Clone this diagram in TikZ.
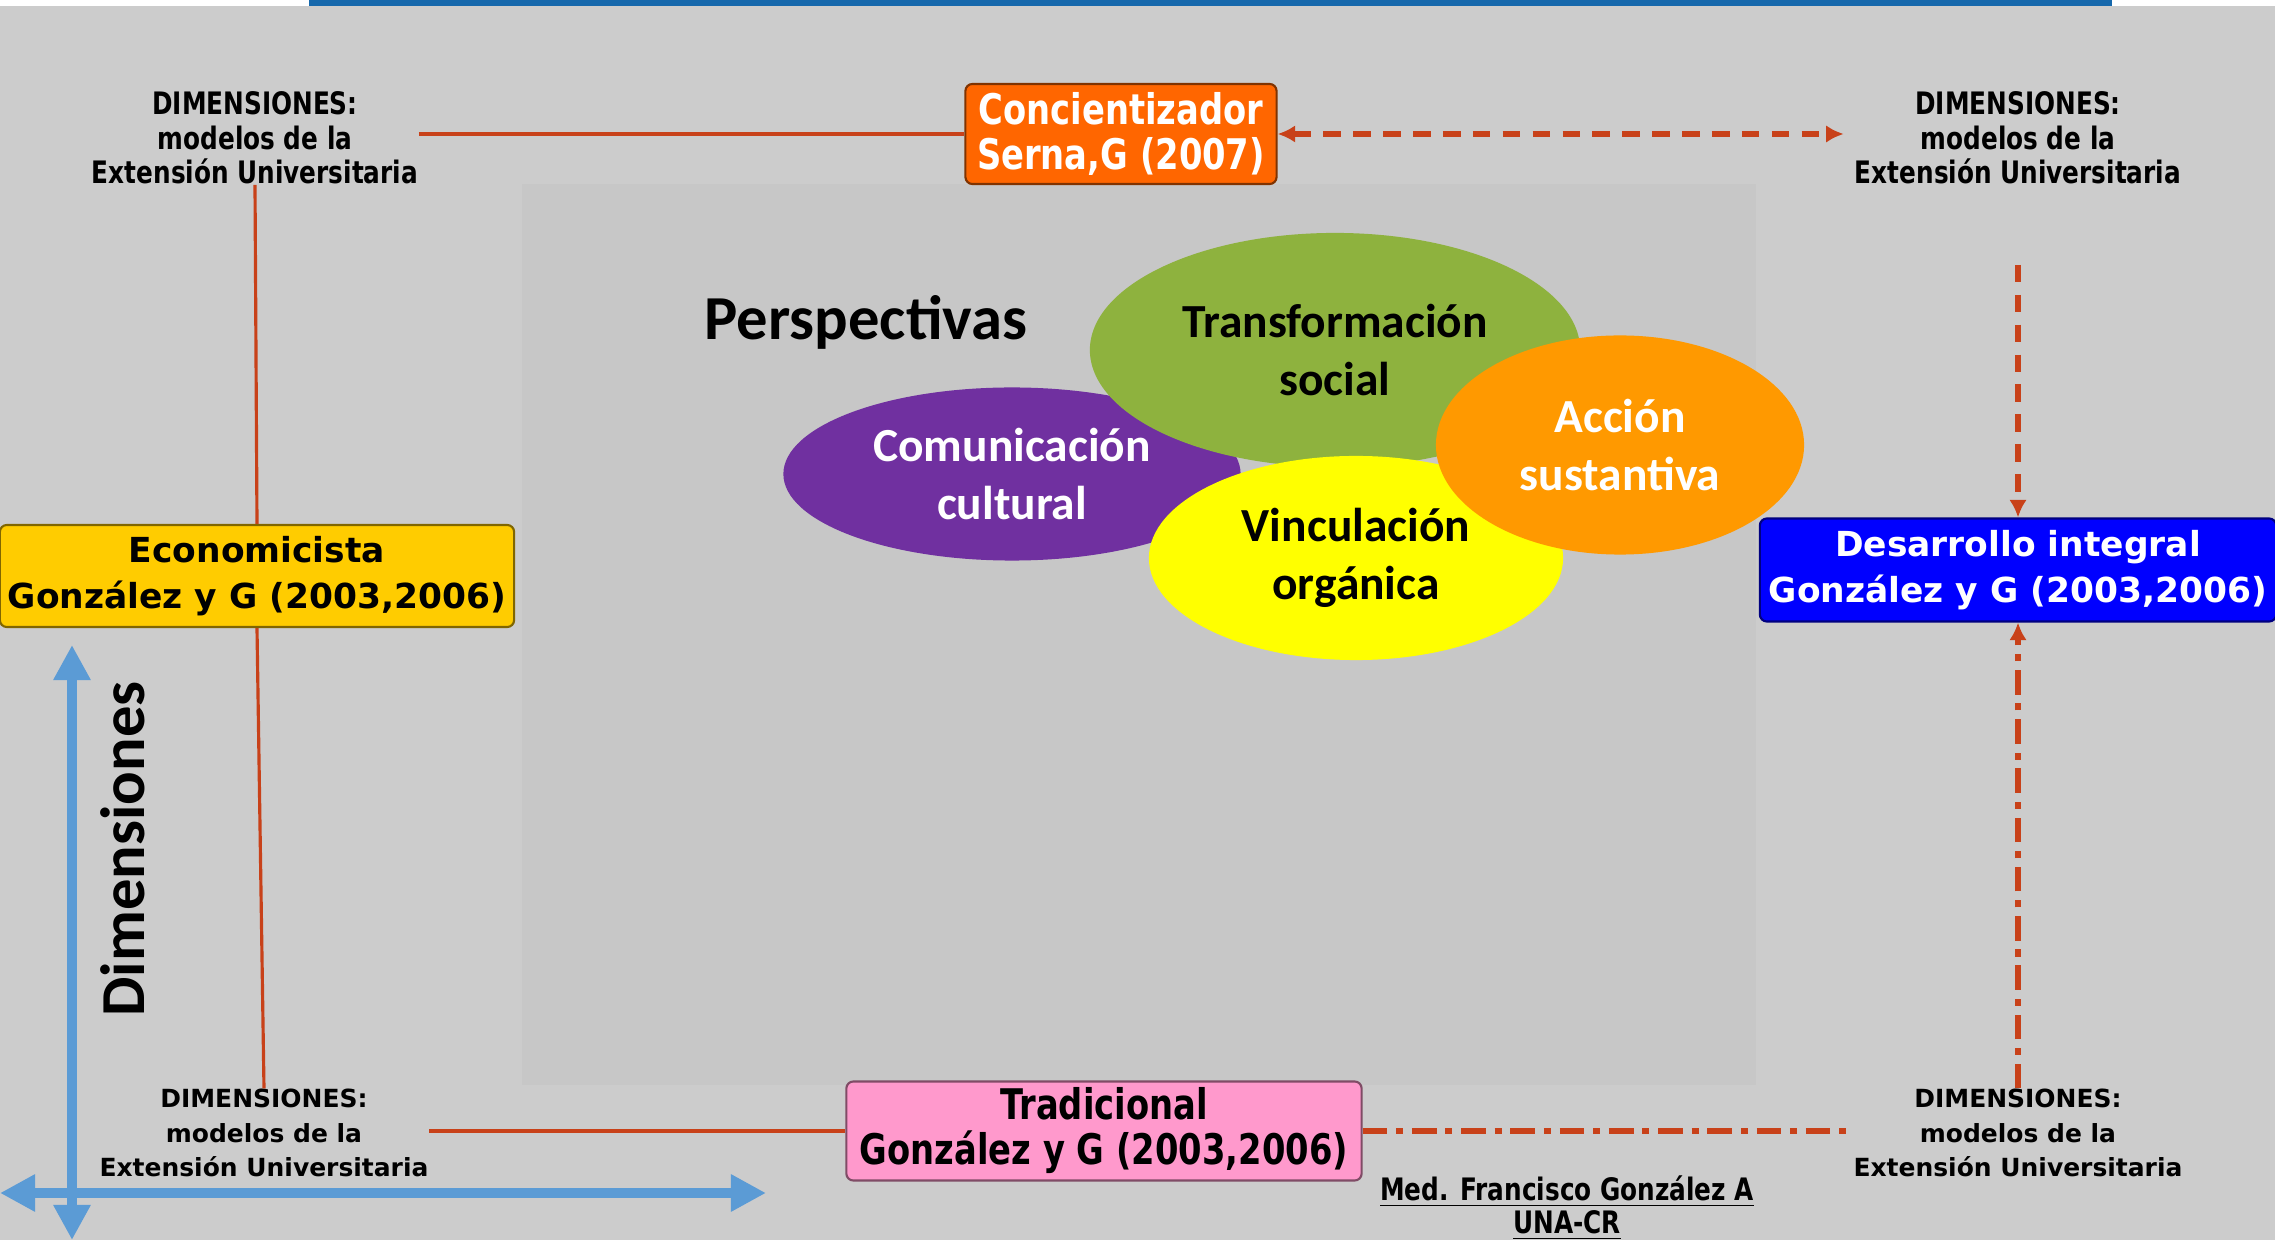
\documentclass[tikz,border=0pt]{standalone}
\usepackage{fontspec}
\setmainfont{DejaVu Sans}
\newfontfamily\narrowfont{DejaVu Sans}[FakeStretch=0.8]
\newfontfamily\calfont{Carlito}
\usetikzlibrary{positioning,shapes.geometric,arrows.meta}
\definecolor{bgray}{RGB}{204,204,204}
\definecolor{pgray}{RGB}{199,199,199}
\definecolor{barblue}{RGB}{22,104,172}
\definecolor{concorange}{RGB}{255,102,0}
\definecolor{econyellow}{RGB}{255,204,0}
\definecolor{desablue}{RGB}{0,0,255}
\definecolor{tradpink}{RGB}{255,153,204}
\definecolor{linkred}{RGB}{200,65,25}
\definecolor{axisblue}{RGB}{91,155,213}
\definecolor{transgreen}{RGB}{142,178,62}
\definecolor{compurple}{RGB}{112,48,160}
\definecolor{vincyellow}{RGB}{255,255,0}
\definecolor{accorange}{RGB}{255,153,0}

\begin{document}
\begin{tikzpicture}[x=0.01cm, y=-0.01cm,
  box/.style = {shape=rectangle, rounded corners=2pt, draw=#1!50!black,
    fill=#1, line width=0.6pt, align=center, inner sep=0pt},
  narrowbox/.style = {font=\narrowfont\bfseries\fontsize{12}{12.8}\selectfont},
  widebox/.style = {font=\bfseries\fontsize{9.8}{13}\selectfont},
  dimtop/.style = {align=center, inner sep=0pt,
    font=\narrowfont\bfseries\fontsize{8.8}{9.8}\selectfont},
  dimbot/.style = {align=center, inner sep=0pt,
    font=\bfseries\fontsize{7.1}{9.8}\selectfont},
  bubble/.style = {shape=ellipse, inner sep=0pt, align=center,
    font=\calfont\bfseries\fontsize{13.5}{16.5}\selectfont},
  title/.style = {inner sep=0pt, font=\calfont\bfseries\fontsize{17.8}{20}\selectfont},
  link/.style = {draw=linkred, line width=0.9pt},
  dashlink/.style = {draw=linkred, line width=1.5pt, dash pattern=on 5pt off 3.5pt},
  dotlink/.style = {draw=linkred, line width=1.5pt, dash pattern=on 7pt off 2.5pt on 2pt off 2.5pt},
  axis/.style = {draw=axisblue, line width=2.8pt,
    {Triangle[width=10pt,length=10pt]}-{Triangle[width=10pt,length=10pt]}},
  >={Latex[length=5pt,width=5pt]}
  ]
\useasboundingbox (0,0) rectangle (2275,1240);
\fill[bgray] (0,0) rectangle (2275,1240);
\fill[white] (0,0) rectangle (2275,6);
\fill[barblue] (309,0) rectangle (2112,6);
\fill[pgray] (522,184) rectangle (1756,1085);

% boxes
\node[box=concorange, narrowbox, text=white, minimum width=3.11cm, minimum height=1cm] (conc) at (1121,134) {Concientizador\\Serna,G (2007)};
\node[box=econyellow, widebox, minimum width=5.14cm, minimum height=1.02cm] (econ) at (257,576) {Economicista\\González y G (2003,2006)};
\node[box=desablue, widebox, text=white, minimum width=5.16cm, minimum height=1.03cm] (desa) at (2018,570) {Desarrollo integral\\González y G (2003,2006)};
\node[box=tradpink, narrowbox, minimum width=5.15cm, minimum height=0.99cm] (trad) at (1104,1131) {Tradicional\\González y G (2003,2006)};

% corner texts
\node[dimtop] (dimTL) at (255,138) {DIMENSIONES:\\modelos de la\\Extensión Universitaria};
\node[dimtop] (dimTR) at (2018,138) {DIMENSIONES:\\modelos de la\\Extensión Universitaria};
\node[dimbot] (dimBL) at (264,1133) {DIMENSIONES:\\modelos de la\\Extensión Universitaria};
\node[dimbot] (dimBR) at (2018,1133) {DIMENSIONES:\\modelos de la\\Extensión Universitaria};

% perspectives
\node[title] (persp) at (866,322) {Perspectivas};
\node[bubble, fill=compurple, text=white, minimum width=4.57cm, minimum height=1.73cm] (comu) at (1012,474) {Comunicación\\cultural};
\node[bubble, fill=transgreen, minimum width=4.9cm, minimum height=2.34cm] (trans) at (1335,350) {Transformación\\social};
\node[bubble, fill=vincyellow, minimum width=4.14cm, minimum height=2.04cm] (vinc) at (1356,558) {Vinculación\\orgánica};
\node[bubble, fill=accorange, text=white, minimum width=3.68cm, minimum height=2.19cm] (acci) at (1620,445) {Acción\\sustantiva};

% axes
\coordinate (axtop) at (72,645);
\coordinate (axbot) at (72,1240);
\coordinate (axleft) at (0,1193);
\coordinate (axright) at (766,1193);
\draw[axis] (axbot) -- (axtop);
\draw[axis] (axleft) -- (axright);
\node[title, rotate=90] (dimlabel) at (123,849) {Dimensiones};

\node[inner sep=0pt, align=center, font=\narrowfont\bfseries\fontsize{8.8}{9.4}\selectfont] (auth) at (1567,1208) {\underline{Med. Francisco González A}\\\underline{UNA-CR}};

% connectors
\draw[link] (dimTL.east |- conc.west) -- (conc.west);
\draw[dashlink, <->] (conc.east) -- ([xshift=-3pt]dimTR.west |- conc.east);
\draw[link] (dimTL.south) -- (econ.north);
\draw[link] (econ.south) -- (dimBL.north);
\draw[link] (dimBL.east |- trad.west) -- (trad.west);
\draw[dotlink] (trad.east) -- (dimBR.west |- trad.east);
\draw[dashlink, ->, shorten <=0.8cm] (dimTR.south) -- (desa.north);
\draw[dotlink, ->] (dimBR.north) -- (desa.south);
\end{tikzpicture}
\end{document}
